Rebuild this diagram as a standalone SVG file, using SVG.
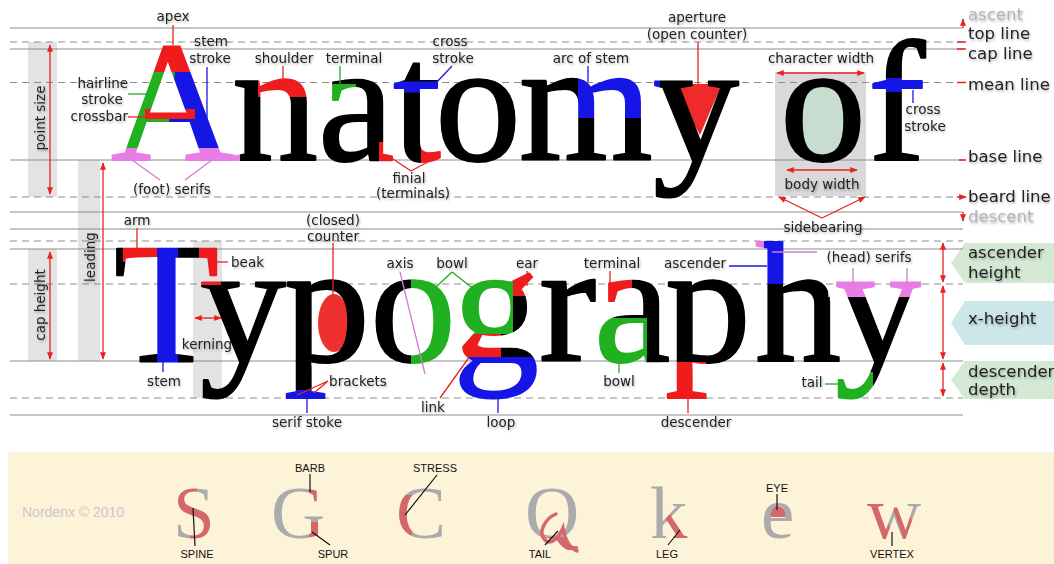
<svg xmlns="http://www.w3.org/2000/svg" width="1054" height="564" viewBox="0 0 1054 564">
<defs>
<style>
.sl{stroke:#8c8c8c;stroke-width:1;fill:none}
.dl{stroke:#8c8c8c;stroke-width:1;stroke-dasharray:7 5;fill:none}
.bar{fill:#e3e3e3}
.lb{font-family:"DejaVu Sans",Verdana,sans-serif;font-size:13.5px;fill:#222;text-anchor:middle}
.rl{font-family:"DejaVu Sans",Verdana,sans-serif;font-size:16.5px;fill:#222}
.big{font-family:"Liberation Serif","Times New Roman",serif;font-size:172px;stroke-width:2;stroke-linejoin:round}
.sm{font-family:"Liberation Serif","Times New Roman",serif;font-size:75px}
.cap{font-family:"Liberation Sans",Arial,sans-serif;font-size:11px;fill:#111;text-anchor:middle}
.r{stroke:#e8231f;stroke-width:1.3;fill:none}
.b{stroke:#1a1adf;stroke-width:1.3;fill:none}
.g{stroke:#22aa22;stroke-width:1.3;fill:none}
.v{stroke:#d57ad5;stroke-width:1.3;fill:none}
.k{stroke:#111;stroke-width:1.2;fill:none}
</style>
<marker id="ah" viewBox="0 0 10 8" refX="9" refY="4" markerWidth="8" markerHeight="6" markerUnits="userSpaceOnUse" orient="auto-start-reverse"><path d="M0,0 L10,4 L0,8 z" fill="#e8231f"/></marker>
<filter id="sh" x="-10%" y="-30%" width="130%" height="180%"><feDropShadow dx="1" dy="1.5" stdDeviation="1" flood-color="#000" flood-opacity="0.3"/></filter>
<pattern id="inkTop" patternUnits="userSpaceOnUse" x="0" y="0" width="1054" height="564">
<rect width="1054" height="564" fill="#000"/>
<rect x="140" y="25" width="75" height="47" fill="#ee1c1c"/>
<rect x="140" y="72" width="95" height="76" fill="#1515e6"/>
<polygon points="100,72 175,72 166,148 100,148" fill="#20b020"/>
<rect x="145" y="109" width="50" height="10" fill="#ee1c1c"/>
<rect x="100" y="148" width="140" height="16" fill="#e67ee6"/>
<rect x="258" y="74" width="66" height="23" fill="#ee1c1c"/>
<rect x="320" y="84" width="36" height="29" fill="#20b020"/>
<rect x="379" y="142" width="20" height="22" fill="#ee1c1c"/>
<rect x="388" y="81.5" width="58" height="11" fill="#1515e6"/>
<rect x="421" y="140" width="22" height="24" fill="#ee1c1c"/>
<rect x="578" y="74" width="82" height="44" fill="#1515e6"/>
<rect x="860" y="78" width="76" height="14" fill="#1515e6"/>
</pattern>
<pattern id="inkBot" patternUnits="userSpaceOnUse" x="0" y="0" width="1054" height="564">
<rect width="1054" height="564" fill="#000"/>
<rect x="123" y="240" width="35" height="22" fill="#ee1c1c"/>
<rect x="199" y="240" width="22" height="45" fill="#ee1c1c"/>
<rect x="157" y="240" width="21" height="123" fill="#1515e6"/>
<rect x="275" y="390" width="60" height="14" fill="#1515e6"/>
<rect x="411" y="272" width="45" height="96" fill="#20b020"/>
<rect x="456" y="272" width="57" height="62" fill="#20b020"/>
<rect x="513" y="272" width="28" height="24" fill="#ee1c1c"/>
<rect x="456" y="334" width="45" height="23" fill="#ee1c1c"/>
<rect x="448" y="357" width="90" height="48" fill="#1515e6"/>
<rect x="598" y="280" width="34" height="34" fill="#ee1c1c"/>
<rect x="596" y="318" width="51" height="50" fill="#20b020"/>
<rect x="660" y="362" width="46" height="42" fill="#ee1c1c"/>
<rect x="762" y="230" width="24" height="54" fill="#1515e6"/>
<rect x="745" y="230" width="19" height="30" fill="#e67ee6"/>
<rect x="828" y="278" width="98" height="19" fill="#e67ee6"/>
<rect x="828" y="372" width="45" height="35" fill="#20b020"/>
</pattern>
<pattern id="inkSm" patternUnits="userSpaceOnUse" x="0" y="0" width="1054" height="564">
<rect width="1054" height="564" fill="#ababab"/>
<polygon points="165,480 197,480 197,500 220,505 220,545 190,545 190,525 165,520" fill="#d5666a"/>
<rect x="309" y="484" width="21" height="22" fill="#d5666a"/>
<rect x="309" y="522" width="21" height="18" fill="#d5666a"/>
<rect x="390" y="495" width="22" height="40" fill="#d5666a"/>
<rect x="548" y="537" width="40" height="25" fill="#d5666a"/>
<polygon points="666,515 700,515 700,545 666,545" fill="#d5666a"/>
<polygon points="865,500 882,500 893,540 880,540" fill="#d5666a"/>
<polygon points="890,500 905,500 918,540 904,540" fill="#d5666a"/>
</pattern>
</defs>
<rect width="1054" height="564" fill="#fff"/>
<rect x="8" y="452" width="1046" height="112" fill="#fdf3d8"/>

<g id="bars">
<rect class="bar" x="28" y="42" width="29" height="155"/>
<rect class="bar" x="78" y="160" width="22" height="201"/>
<rect class="bar" x="28" y="249" width="29" height="112"/>
<rect class="bar" x="193" y="241" width="29" height="157"/>
<rect x="775" y="72" width="91" height="124" fill="#d9d9d9"/>
<polygon points="965,243 1054,243 1054,283 965,283 951,263" fill="#d3e9d3"/>
<polygon points="965,301 1054,301 1054,345 965,345 951,323" fill="#cde6ea"/>
<polygon points="965,361 1054,361 1054,399 965,399 951,380" fill="#d3e9d3"/>
</g>

<g id="guides">
<path class="sl" d="M10,28H963M10,49H963M10,160H963M10,212H963M10,229H963M10,249H963M10,361H963M10,415H963"/>
<path class="dl" d="M10,42H963M10,82.5H963M10,197H963M10,241H963M10,284H963M10,398H963"/>
</g>

<g id="fills">
<ellipse cx="823" cy="121" rx="26" ry="38" fill="#c8ddd0"/>
<ellipse cx="334" cy="323" rx="16" ry="29" fill="#ee3030"/>
<polygon points="672,84 722,84 700,135" fill="#ee2a2a"/>
<path d="M765,517 a11,11 0 0 1 22,0 z" fill="#d5666a"/>
</g>

<g id="letters">
<text class="big" fill="url(#inkTop)" stroke="url(#inkTop)" x="111 232 318 393 435 519 653" y="160">Anatomy</text>
<text class="big" fill="url(#inkTop)" stroke="url(#inkTop)" x="780 868" y="160">of</text>
<text class="big" fill="url(#inkBot)" stroke="url(#inkBot)" x="114 200 284 370 453 539 594 665 755 835" y="361">Typography</text>
<text class="sm" fill="url(#inkSm)" x="173" y="538">S</text>
<text class="sm" fill="url(#inkSm)" x="271" y="538">G</text>
<text class="sm" fill="url(#inkSm)" x="396" y="538">C</text>
<text class="sm" fill="url(#inkSm)" x="525" y="538">Q</text>
<text class="sm" fill="url(#inkSm)" x="650" y="538">k</text>
<text class="sm" fill="url(#inkSm)" x="761" y="538">e</text>
<text class="sm" fill="url(#inkSm)" x="867" y="538">w</text>
<path d="M556,514 C546,518 537,532 545,540 C551,546 559,537 563,528 C565,539 569,548 577,551" fill="none" stroke="#d5666a" stroke-width="3.5" stroke-linecap="round"/>
</g>

<g id="connectors">
<line class="r" x1="50" y1="45" x2="50" y2="194" marker-start="url(#ah)" marker-end="url(#ah)"/>
<line class="r" x1="103" y1="163" x2="103" y2="359" marker-start="url(#ah)" marker-end="url(#ah)"/>
<line class="r" x1="50" y1="252" x2="50" y2="359" marker-start="url(#ah)" marker-end="url(#ah)"/>
<line class="r" x1="195" y1="318" x2="221" y2="318" marker-start="url(#ah)" marker-end="url(#ah)"/>
<line class="r" x1="777" y1="73" x2="864" y2="73" marker-start="url(#ah)" marker-end="url(#ah)"/>
<line class="r" x1="787" y1="170" x2="857" y2="170" marker-start="url(#ah)" marker-end="url(#ah)"/>
<line class="r" x1="822" y1="218" x2="779" y2="197" marker-end="url(#ah)"/>
<line class="r" x1="822" y1="218" x2="865" y2="197" marker-end="url(#ah)"/>
<line class="r" x1="943" y1="243" x2="943" y2="282" marker-start="url(#ah)" marker-end="url(#ah)"/>
<line class="r" x1="943" y1="286" x2="943" y2="359" marker-start="url(#ah)" marker-end="url(#ah)"/>
<line class="r" x1="943" y1="363" x2="943" y2="396" marker-start="url(#ah)" marker-end="url(#ah)"/>
<path class="r" d="M957,42H966M957,49H966M957,82.5H966M959,160H966M957,197H966" marker-end="url(#ah)"/>
<line class="r" x1="963" y1="28" x2="963" y2="19" marker-end="url(#ah)"/>
<line class="r" x1="963" y1="212" x2="963" y2="221" marker-end="url(#ah)"/>
<line class="r" x1="173" y1="25" x2="173" y2="45"/>
<line class="b" x1="207" y1="67" x2="207" y2="147"/>
<line class="g" x1="128" y1="94" x2="150" y2="94"/>
<line class="r" x1="128" y1="117" x2="148" y2="117"/>
<line class="r" x1="283" y1="66" x2="283" y2="82"/>
<line class="g" x1="340" y1="66" x2="340" y2="86"/>
<path class="v" d="M132,160L160,180M212,160L185,180"/>
<line class="b" x1="452" y1="66" x2="436" y2="83"/>
<line class="b" x1="588" y1="66" x2="588" y2="82"/>
<path class="r" d="M390,157L411,171M437,157L411,171"/>
<line class="r" x1="698" y1="42" x2="698" y2="86"/>
<line class="b" x1="913" y1="90" x2="913" y2="103"/>
<line class="r" x1="137" y1="228" x2="137" y2="249"/>
<line class="r" x1="212" y1="262" x2="228" y2="262"/>
<line class="b" x1="163" y1="361" x2="163" y2="372"/>
<line class="b" x1="307" y1="398" x2="307" y2="413"/>
<path class="r" d="M328,381L297,395M328,381L314,393"/>
<line class="r" x1="333" y1="243" x2="333" y2="296"/>
<line class="v" x1="400" y1="272" x2="425" y2="374"/>
<path class="g" d="M452,272L435,288M452,272L475,290"/>
<line class="r" x1="527" y1="271" x2="527" y2="286"/>
<line class="r" x1="610" y1="271" x2="610" y2="290"/>
<line class="b" x1="729" y1="266" x2="767" y2="266"/>
<line class="v" x1="772" y1="252" x2="817" y2="252"/>
<path class="v" d="M853,268V285M907,268V285"/>
<line class="r" x1="440" y1="398" x2="470" y2="356"/>
<line class="b" x1="498" y1="398" x2="498" y2="413"/>
<line class="g" x1="619" y1="362" x2="619" y2="373"/>
<line class="r" x1="688" y1="398" x2="688" y2="413"/>
<line class="g" x1="825" y1="384" x2="843" y2="384"/>
<line class="k" x1="193" y1="508" x2="195" y2="546"/>
<line class="k" x1="310" y1="474" x2="310" y2="492"/>
<line class="k" x1="312" y1="532" x2="330" y2="545"/>
<line class="k" x1="437" y1="475" x2="405" y2="515"/>
<line class="k" x1="545" y1="545" x2="558" y2="531"/>
<line class="k" x1="668" y1="545" x2="680" y2="530"/>
<line class="k" x1="777" y1="494" x2="777" y2="510"/>
<line class="k" x1="892" y1="532" x2="892" y2="546"/>
</g>

<g id="labels" filter="url(#sh)">
<text class="lb" x="173" y="21">apex</text>
<text class="lb" x="211" y="46">stem</text>
<text class="lb" x="210" y="63">stroke</text>
<text class="lb" x="284" y="63">shoulder</text>
<text class="lb" x="354" y="63">terminal</text>
<text class="lb" x="128" y="88" style="text-anchor:end">hairline</text>
<text class="lb" x="102" y="104">stroke</text>
<text class="lb" x="128" y="121" style="text-anchor:end">crossbar</text>
<text class="lb" x="172" y="194">(foot) serifs</text>
<text class="lb" x="450" y="46">cross</text>
<text class="lb" x="453" y="63">stroke</text>
<text class="lb" x="591" y="63">arc of stem</text>
<text class="lb" x="409" y="183">finial</text>
<text class="lb" x="413" y="198">(terminals)</text>
<text class="lb" x="697" y="22">aperture</text>
<text class="lb" x="697" y="39">(open counter)</text>
<text class="lb" x="821" y="63">character width</text>
<text class="lb" x="822" y="189">body width</text>
<text class="lb" x="923" y="114">cross</text>
<text class="lb" x="925" y="131">stroke</text>
<text class="lb" x="823" y="232">sidebearing</text>
<text class="lb" transform="translate(45,118) rotate(-90)">point size</text>
<text class="lb" transform="translate(95,257) rotate(-90)">leading</text>
<text class="lb" transform="translate(45,305) rotate(-90)">cap height</text>
<text class="lb" x="137" y="225">arm</text>
<text class="lb" x="333" y="225">(closed)</text>
<text class="lb" x="333" y="241">counter</text>
<text class="lb" x="231" y="267" style="text-anchor:start">beak</text>
<text class="lb" x="207" y="349">kerning</text>
<text class="lb" x="164" y="386">stem</text>
<text class="lb" x="307" y="427">serif stoke</text>
<text class="lb" x="358" y="386">brackets</text>
<text class="lb" x="400" y="268">axis</text>
<text class="lb" x="452" y="268">bowl</text>
<text class="lb" x="527" y="268">ear</text>
<text class="lb" x="612" y="268">terminal</text>
<text class="lb" x="695" y="268">ascender</text>
<text class="lb" x="869" y="262">(head) serifs</text>
<text class="lb" x="433" y="412">link</text>
<text class="lb" x="619" y="386">bowl</text>
<text class="lb" x="501" y="427">loop</text>
<text class="lb" x="696" y="427">descender</text>
<text class="lb" x="812" y="387">tail</text>
<text class="rl" x="968" y="20" style="fill:#b4b4b4">ascent</text>
<text class="rl" x="968" y="39">top line</text>
<text class="rl" x="968" y="59">cap line</text>
<text class="rl" x="968" y="90">mean line</text>
<text class="rl" x="968" y="162">base line</text>
<text class="rl" x="968" y="202">beard line</text>
<text class="rl" x="968" y="222" style="fill:#b4b4b4">descent</text>
<text class="rl" x="968" y="258">ascender</text>
<text class="rl" x="968" y="278">height</text>
<text class="rl" x="968" y="324">x-height</text>
<text class="rl" x="968" y="377">descender</text>
<text class="rl" x="968" y="395">depth</text>
</g>

<g id="panel">
<text x="22" y="517" style="font-family:'Liberation Sans',Arial,sans-serif;font-size:14px;fill:#c9c9c9">Nordenx © 2010</text>
<text class="cap" x="310" y="472">BARB</text>
<text class="cap" x="435" y="472">STRESS</text>
<text class="cap" x="777" y="492">EYE</text>
<text class="cap" x="197" y="558">SPINE</text>
<text class="cap" x="333" y="558">SPUR</text>
<text class="cap" x="540" y="558">TAIL</text>
<text class="cap" x="667" y="558">LEG</text>
<text class="cap" x="892" y="558">VERTEX</text>
</g>
</svg>
